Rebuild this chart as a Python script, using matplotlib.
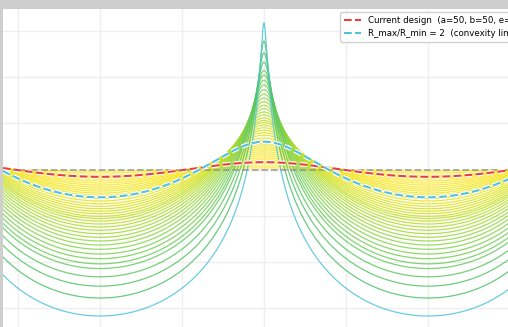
import numpy as np
import matplotlib
matplotlib.use("Agg")
import matplotlib.pyplot as plt
import matplotlib.patheffects as pe

# family of shape ratios (a/b), inner (yellow) to outer
family_ratios = [1.04, 1.09, 1.15, 1.21, 1.27, 1.33, 1.40, 1.47, 1.55, 1.63,
                 1.71, 1.80, 1.89, 2.07, 2.19, 2.35, 2.50, 2.66, 2.83, 3.01,
                 3.21, 3.39, 3.61, 3.89, 4.19, 4.55, 4.95, 5.42, 5.94, 6.56,
                 7.30, 8.21, 9.23, 10.5, 11.8, 14.5, 18.3, 24.6, 38.5]
current_ratio = 1.2
limit_ratio = 2.0
baseline_value = 1.0

current_label = "Current design  (a=50, b=50, e=20)"
limit_label = "R_max/R_min = 2  (convexity limit)"

theta = np.linspace(30, 320, 3000)


def profile(ratio):
    th = np.radians(theta)
    return (ratio * np.sin(th) ** 2 + np.cos(th) ** 2 / ratio) ** -2


fig = plt.figure(figsize=(5.08, 3.27), dpi=100, facecolor="#cdcecd")
ax = fig.add_axes([3 / 508, 0, 505 / 508, 318 / 327])
ax.set_facecolor("white")

n = len(family_ratios)
frac = np.linspace(0, 1, n - 1)
colors = list(plt.cm.viridis(1 - 0.28 * frac ** 2)) + ["#4fc3dc"]
for r, c in zip(family_ratios, colors):
    ax.plot(theta, profile(r), color=c, lw=0.9, alpha=0.85, zorder=2)

ax.axhline(baseline_value, color="#8c8c8c", ls="--", lw=1.3, alpha=0.75, zorder=3)

stroke = [pe.withStroke(linewidth=3.2, foreground="white")]
ax.plot(theta, profile(current_ratio), color="#e8403a", ls="--", lw=1.5,
        label=current_label, zorder=4, path_effects=stroke)
ax.plot(theta, profile(limit_ratio), color="#4fc3dc", ls="--", lw=1.5,
        label=limit_label, zorder=4, path_effects=stroke)

ax.set_yscale("log")
ax.set_xticks(np.arange(0, 361, 45))
ax.set_yticks([10.0 ** k for k in range(-4, 5)])
ax.minorticks_off()
ax.set_xlim(36.8, 313.9)
ax.set_ylim(10 ** -3.409, 10 ** 3.474)
ax.grid(True, color="#efefef", lw=1.0)
ax.set_axisbelow(True)
ax.tick_params(length=0, labelleft=False, labelbottom=False)
for s in ax.spines.values():
    s.set_visible(False)

fig.legend(loc="upper left", bbox_to_anchor=(336 / 508, 1 - 8 / 327),
           fontsize=6.2, frameon=True, framealpha=0.9, edgecolor="#cccccc")

fig.savefig("out.png", dpi=100, facecolor=fig.get_facecolor())
